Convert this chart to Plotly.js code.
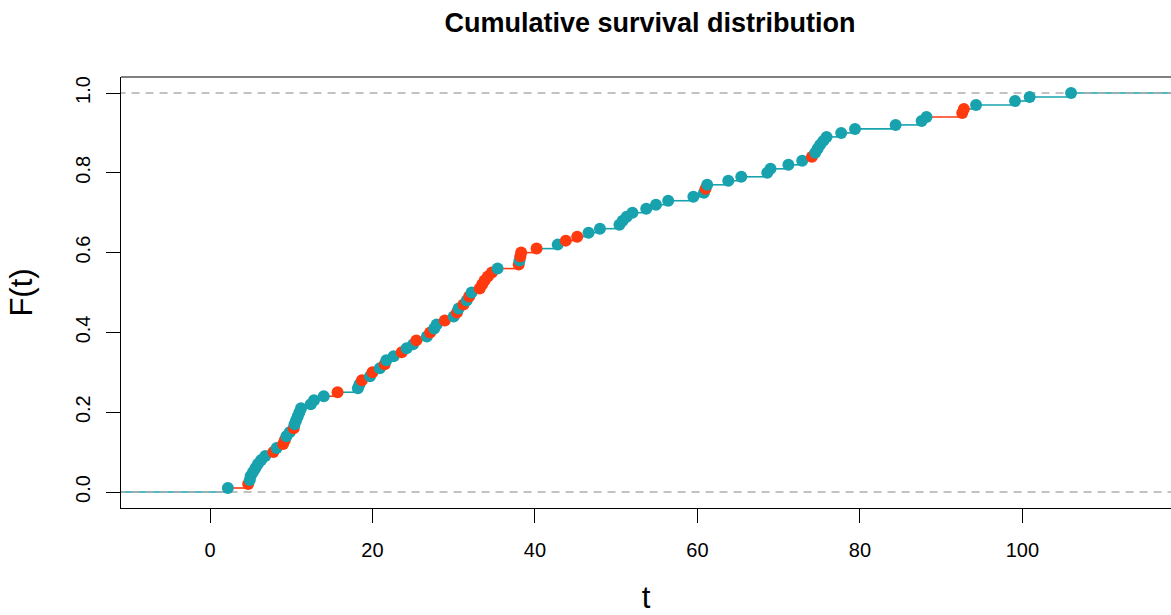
<!DOCTYPE html>
<html>
<head>
<meta charset="utf-8">
<script src="https://cdn.plot.ly/plotly-3.0.1.min.js"></script>
<style>html,body{margin:0;padding:0;background:#fff;overflow:hidden;}</style>
</head>
<body>
<div id="chart" style="width:1171px;height:615px;"></div>
<script>
// Observed survival times (sorted) and point group (0 = teal, 1 = red)
const times = [2.2, 4.7, 4.9, 5.0, 5.3, 5.6, 5.9, 6.3, 6.8, 7.8,
  8.2, 9.0, 9.2, 9.4, 9.8, 10.3, 10.4, 10.6, 10.8, 11.0,
  11.2, 12.4, 12.8, 14.0, 15.7, 18.2, 18.4, 18.7, 19.7, 20.0,
  20.9, 21.5, 21.7, 22.6, 23.6, 24.2, 25.0, 25.4, 26.7, 27.1,
  27.6, 27.9, 28.9, 30.0, 30.4, 30.6, 31.2, 31.6, 31.9, 32.2,
  33.2, 33.5, 33.8, 34.2, 34.7, 35.4, 38.0, 38.1, 38.2, 38.3,
  40.2, 42.8, 43.8, 45.2, 46.6, 48.0, 50.4, 50.8, 51.3, 52.0,
  53.7, 54.9, 56.4, 59.5, 60.8, 61.0, 61.2, 63.8, 65.4, 68.6,
  69.0, 71.2, 72.9, 74.1, 74.5, 74.8, 75.1, 75.5, 75.9, 77.7,
  79.4, 84.4, 87.6, 88.2, 92.6, 92.8, 94.3, 99.1, 100.9, 106.0];
const pointGroup = [0, 1, 0, 0, 0, 0, 0, 0, 0, 1,
  0, 1, 1, 0, 0, 1, 0, 0, 0, 0,
  0, 0, 0, 0, 1, 0, 0, 1, 0, 1,
  0, 1, 0, 0, 1, 0, 0, 1, 0, 1,
  0, 0, 1, 0, 1, 0, 1, 0, 1, 0,
  1, 1, 1, 1, 1, 0, 1, 0, 1, 1,
  1, 0, 1, 1, 0, 0, 0, 0, 0, 0,
  0, 0, 0, 0, 0, 1, 0, 0, 0, 0,
  0, 0, 0, 1, 0, 0, 0, 0, 0, 0,
  0, 0, 0, 0, 1, 1, 0, 0, 0, 0];
const groupColors = ['#17A2AE', '#FF3A0E'];
const yTicks = [0, 0.2, 0.4, 0.6, 0.8, 1.0];
const yTickText = ['0.0', '0.2', '0.4', '0.6', '0.8', '1.0'];
const xTicks = [0, 20, 40, 60, 80, 100];

const n = times.length;
const ecdf = times.map((_, i) => (i + 1) / n);

// step segments: segment leading into point i is coloured like point i
const segX = [[], []], segY = [[], []];
const xLeft = -20, xRight = 140;
for (let i = 0; i < n; i++) {
  const g = pointGroup[i];
  const x0 = i === 0 ? xLeft : times[i - 1];
  const y0 = i === 0 ? 0 : ecdf[i - 1];
  segX[g].push(x0, times[i], null);
  segY[g].push(y0, y0, null);
}
const gl = pointGroup[n - 1];
segX[gl].push(times[n - 1], xRight, null);
segY[gl].push(1, 1, null);

const traces = [];
[0, 1].forEach(g => traces.push({
  x: segX[g], y: segY[g], type: 'scatter', mode: 'lines',
  line: {color: groupColors[g], width: 1.6}, hoverinfo: 'skip', showlegend: false
}));
traces.push({
  x: [xLeft, xRight, null, xLeft, xRight], y: [0, 0, null, 1, 1],
  type: 'scatter', mode: 'lines',
  line: {color: '#AFAFAF', width: 1.5, dash: '8px,6px'}, hoverinfo: 'skip', showlegend: false
});
traces.push({
  x: times, y: ecdf, type: 'scatter', mode: 'markers',
  marker: {size: 12, color: pointGroup.map(g => groupColors[g]), line: {width: 0}},
  showlegend: false
});

const font = 'Liberation Sans, Arial, Helvetica, sans-serif';
const layout = {
  width: 1171, height: 615,
  margin: {l: 121, r: 0, t: 77, b: 107},
  paper_bgcolor: '#ffffff', plot_bgcolor: '#ffffff',
  font: {family: font, color: '#000'},
  title: {text: '<b>Cumulative survival distribution</b>', font: {size: 27, family: font, color: '#000'},
    x: 650 / 1171, xref: 'container', xanchor: 'center', y: 1 - 23 / 615, yref: 'container', yanchor: 'middle'},
  xaxis: {
    range: [-10.96, 118.3], tickvals: xTicks, ticktext: xTicks.map(String),
    showgrid: false, zeroline: false, showline: true, linecolor: '#000', linewidth: 1,
    ticks: 'outside', ticklen: 14, tickwidth: 1, tickcolor: '#000',
    tickfont: {size: 20, family: font}, ticklabelstandoff: 10,
    title: {text: 't', font: {size: 31, family: font}, standoff: 26}
  },
  yaxis: {
    range: [-0.0401, 1.0401], tickvals: yTicks, ticktext: yTickText, tickangle: -90,
    showgrid: false, zeroline: false, showline: true, linecolor: '#000', linewidth: 1,
    ticks: 'outside', ticklen: 14, tickwidth: 1, tickcolor: '#000',
    tickfont: {size: 20, family: font}, ticklabelstandoff: 8,
    title: {text: 'F(t)', font: {size: 31, family: font}, standoff: 30}
  },
  shapes: [{type: 'line', xref: 'paper', yref: 'paper', x0: 0, x1: 1, y0: 1, y1: 1,
    line: {color: '#000', width: 1}}]
};
Plotly.newPlot('chart', traces, layout, {staticPlot: true, displayModeBar: false});
</script>
</body>
</html>
